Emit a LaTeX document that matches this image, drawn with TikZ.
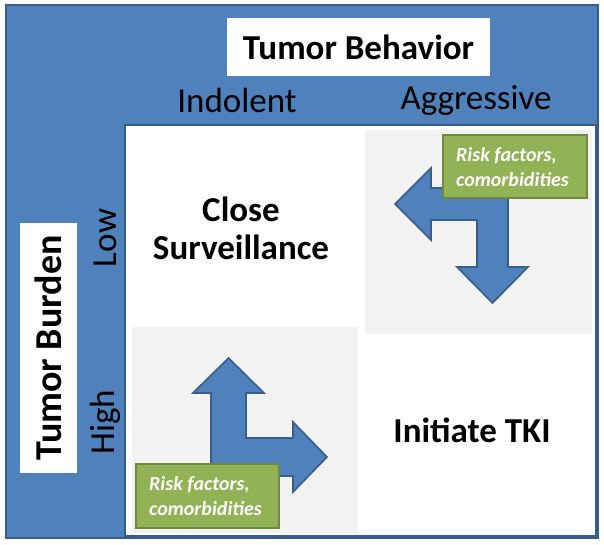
\documentclass[tikz,border=0pt]{standalone}
\usepackage{fontspec}
\setmainfont{Carlito}
\definecolor{bblue}{HTML}{4F81BD}
\definecolor{dblue}{HTML}{385D8A}
\definecolor{ggreen}{HTML}{92B255}
\definecolor{dgreen}{HTML}{71893F}
\definecolor{cellgray}{HTML}{F2F2F2}
\begin{document}
\begin{tikzpicture}[x=1pt,y=-1pt,
  bigtext/.style={font=\fontsize{35}{38}\selectfont, text=black, inner sep=0pt},
  titlebox/.style={fill=white, draw=none, font=\bfseries\fontsize{35}{38}\selectfont, inner sep=0pt},
  greentext/.style={font=\bfseries\itshape\fontsize{20}{25}\selectfont, text=white, align=left, inner sep=0pt, anchor=west},
  greenbox/.style={fill=ggreen, draw=dgreen, line width=2pt},
  bluearrow/.style={fill=bblue, draw=dblue, line width=1.6pt, line join=miter}]
\useasboundingbox (0,0) rectangle (604,544);
% outer frame
\draw[fill=bblue, draw=dblue, line width=2.5pt] (6,5) rectangle (598,538);
% inner white area
\draw[fill=white, draw=dblue, line width=2.5pt] (125,125) rectangle (596,536);
% gray cells
\fill[cellgray] (365,130) rectangle (592,334);
\fill[cellgray] (132,327) rectangle (358,533);
% title boxes
\fill[white] (227,18) rectangle (490,76);
\node[titlebox] (behav) at (358.5,47) {Tumor Behavior};
\fill[white] (20,223) rectangle (77,473);
\node[titlebox, font=\bfseries\fontsize{38}{40}\selectfont, rotate=90] (burden) at (48.5,348) {Tumor Burden};
% axis labels
\node[bigtext] (indolent) at (237,100) {Indolent};
\node[bigtext] (aggressive) at (476,100) {Aggressive};
\node[bigtext, rotate=90] (low) at (105,238) {Low};
\node[bigtext, rotate=90] (high) at (105,422) {High};
% cell texts
\node[bigtext, font=\bfseries\fontsize{35}{38}\selectfont, align=center] (close) at (241,228) {Close\\Surveillance};
\node[bigtext, font=\bfseries\fontsize{35}{38}\selectfont] (tki) at (472,430) {Initiate TKI};
% top-right arrow
\draw[bluearrow] (395,204) -- (431,168) -- (431,188) -- (508,188) -- (508,267)
  -- (528,267) -- (492.5,303) -- (457,267) -- (477,267) -- (477,220)
  -- (431,220) -- (431,240) -- cycle;
% bottom-left arrow
\draw[bluearrow] (228.5,358) -- (264,393) -- (246,393) -- (246,438) -- (293,438)
  -- (293,422) -- (327,457) -- (293,492) -- (293,476) -- (211,476)
  -- (211,393) -- (193,393) -- cycle;
% green boxes
\draw[greenbox] (443,135) rectangle (587,198);
\node[greentext] (risk1) at (456,167) {Risk factors,\\comorbidities};
\draw[greenbox] (136,464) rectangle (279,528);
\node[greentext] (risk2) at (149,496) {Risk factors,\\comorbidities};
\end{tikzpicture}
\end{document}
